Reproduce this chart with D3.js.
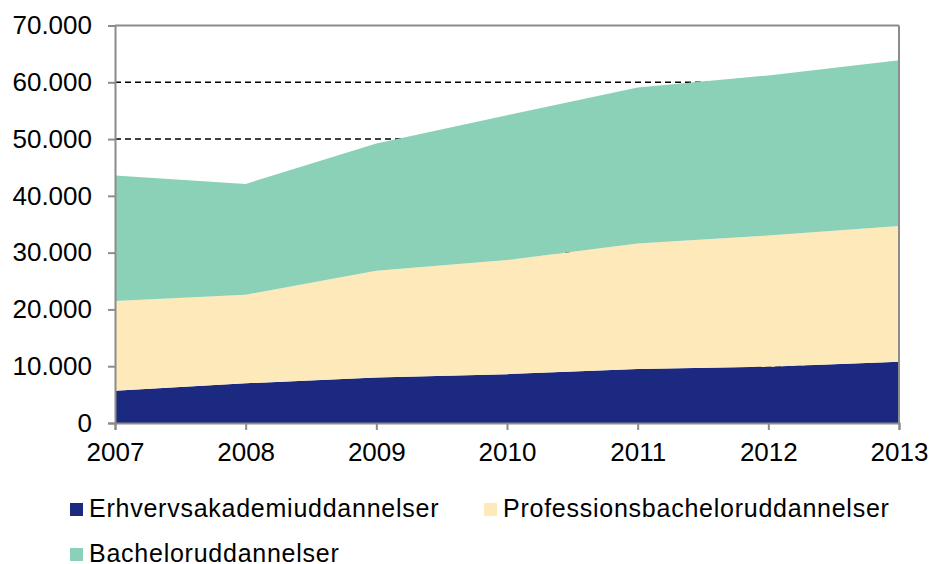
<!DOCTYPE html>
<html>
<head>
  <meta charset="utf-8">
  <script src="https://d3js.org/d3.v7.min.js"></script>
  <style>
    body { margin: 0; background: #fff; }
    text { font-family: "Liberation Sans", Arial, sans-serif; fill: #000; }
  </style>
</head>
<body>
<svg width="931" height="564"></svg>
<script>
// data
var years = [2007, 2008, 2009, 2010, 2011, 2012, 2013];
var erhverv = [5700, 7000, 8000, 8600, 9500, 9900, 10800];
var profession = [15800, 15600, 18800, 20100, 22100, 23100, 23900];
var bachelor = [22100, 19500, 22400, 25500, 27500, 28200, 29200];
var yTicks = [0, 10000, 20000, 30000, 40000, 50000, 60000, 70000];
var seriesNames = ["Erhvervsakademiuddannelser", "Professionsbacheloruddannelser", "Bacheloruddannelser"];
var colors = ["#1b2a80", "#fde9b9", "#8bd1b8"];

var svg = d3.select("svg"),
    margin = {top: 25.5, right: 32, bottom: 141, left: 115},
    width = +svg.attr("width") - margin.left - margin.right,
    height = +svg.attr("height") - margin.top - margin.bottom,
    g = svg.append("g").attr("transform", "translate(" + margin.left + "," + margin.top + ")");

var x = d3.scaleLinear().domain([2007, 2013]).range([0, width]);
var y = d3.scaleLinear().domain([0, 70000]).range([height, 0]);

var rows = years.map(function(yr, i) {
  return {year: yr, e: erhverv[i], p: profession[i], b: bachelor[i]};
});
var stack = d3.stack().keys(["e", "p", "b"])(rows);

// dashed gridlines behind the areas
g.append("g").selectAll("line")
  .data(yTicks.filter(function(d) { return d > 0 && d < 70000; }))
  .enter().append("line")
    .attr("x1", 0).attr("x2", width)
    .attr("y1", function(d) { return y(d); })
    .attr("y2", function(d) { return y(d); })
    .attr("stroke", "#000")
    .attr("stroke-width", 1.4)
    .attr("stroke-dasharray", "6,4");

var area = d3.area()
  .x(function(d) { return x(d.data.year); })
  .y0(function(d) { return y(d[0]); })
  .y1(function(d) { return y(d[1]); });

g.append("g").selectAll("path")
  .data(stack)
  .enter().append("path")
    .attr("fill", function(d, i) { return colors[i]; })
    .attr("d", area);

// frame top and right
g.append("line").attr("x1", 0).attr("x2", width).attr("y1", 0).attr("y2", 0)
  .attr("stroke", "#8c8c8c").attr("stroke-width", 2);
g.append("line").attr("x1", width).attr("x2", width).attr("y1", 0).attr("y2", height)
  .attr("stroke", "#8c8c8c").attr("stroke-width", 2);

var yAxis = g.append("g")
  .call(d3.axisLeft(y).tickValues(yTicks).tickSizeOuter(0).tickSize(7).tickPadding(16)
    .tickFormat(function(d) { return d === 0 ? "0" : d3.format(",")(d).replace(/,/g, "."); }));

var xAxis = g.append("g")
  .attr("transform", "translate(0," + height + ")")
  .call(d3.axisBottom(x).tickValues(years).tickSizeOuter(0).tickSize(7).tickPadding(13)
    .tickFormat(d3.format("d")));

[yAxis, xAxis].forEach(function(a) {
  a.select(".domain").attr("stroke", "#8c8c8c").attr("stroke-width", 2);
  a.selectAll(".tick line").attr("stroke", "#8c8c8c").attr("stroke-width", 2);
  a.selectAll("text").attr("font-size", 26).attr("font-family", "Liberation Sans, Arial, sans-serif").attr("fill", "#000");
});

// legend
var legendPos = [[70, 503], [484, 503], [70, 548]];
var legend = svg.append("g").selectAll("g")
  .data(seriesNames)
  .enter().append("g")
    .attr("transform", function(d, i) { return "translate(" + legendPos[i][0] + "," + legendPos[i][1] + ")"; });

legend.append("rect")
  .attr("width", 13).attr("height", 13)
  .attr("fill", function(d, i) { return colors[i]; });

legend.append("text")
  .attr("x", 19).attr("y", 13.5)
  .attr("font-size", 25)
  .attr("letter-spacing", 0.75)
  .text(function(d) { return d; });
</script>
</body>
</html>
